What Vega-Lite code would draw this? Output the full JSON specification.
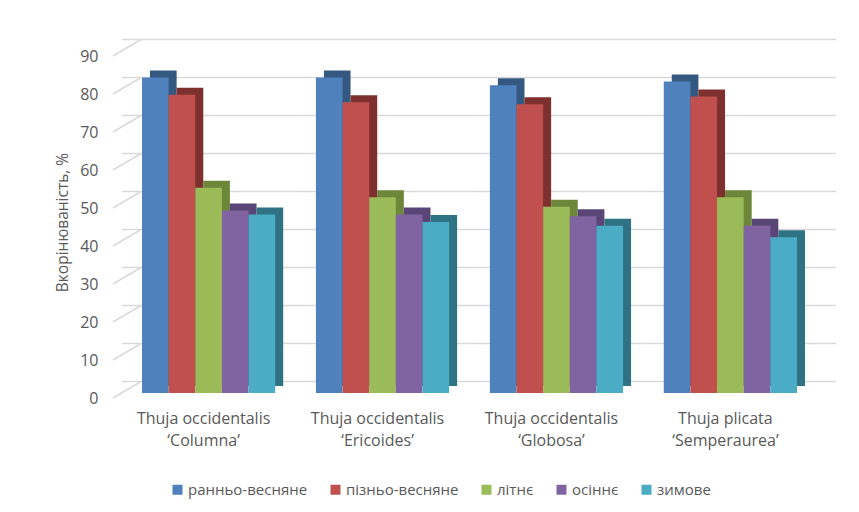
{
  "$schema": "https://vega.github.io/schema/vega-lite/v6.json",
  "width": 695,
  "height": 342,
  "autosize": "none",
  "padding": {"left": 122, "top": 51, "right": 42, "bottom": 119},
  "background": "white",
  "config": {
    "view": {"stroke": null},
    "font": "Open Sans",
    "axisY": {"grid": false, "ticks": false, "domain": false, "tickCount": 10,
              "labelOverlap": false,
              "labelFontSize": 16, "labelColor": "#595959", "labelPadding": 24, "labelOffset": 5,
              "titleFontSize": 15.5, "titleFontWeight": "normal",
              "titleColor": "#595959", "titlePadding": 9}
  },
  "datasets": {
    "bars": [
      {"variety": "Thuja occidentalis\n‘Columna’", "season": "ранньо-весняне", "value": 83},
      {"variety": "Thuja occidentalis\n‘Columna’", "season": "пізньо-весняне", "value": 78.5},
      {"variety": "Thuja occidentalis\n‘Columna’", "season": "літнє", "value": 54},
      {"variety": "Thuja occidentalis\n‘Columna’", "season": "осіннє", "value": 48},
      {"variety": "Thuja occidentalis\n‘Columna’", "season": "зимове", "value": 47},
      {"variety": "Thuja occidentalis\n‘Ericoides’", "season": "ранньо-весняне", "value": 83},
      {"variety": "Thuja occidentalis\n‘Ericoides’", "season": "пізньо-весняне", "value": 76.5},
      {"variety": "Thuja occidentalis\n‘Ericoides’", "season": "літнє", "value": 51.5},
      {"variety": "Thuja occidentalis\n‘Ericoides’", "season": "осіннє", "value": 47},
      {"variety": "Thuja occidentalis\n‘Ericoides’", "season": "зимове", "value": 45},
      {"variety": "Thuja occidentalis\n‘Globosa’", "season": "ранньо-весняне", "value": 81},
      {"variety": "Thuja occidentalis\n‘Globosa’", "season": "пізньо-весняне", "value": 76},
      {"variety": "Thuja occidentalis\n‘Globosa’", "season": "літнє", "value": 49},
      {"variety": "Thuja occidentalis\n‘Globosa’", "season": "осіннє", "value": 46.5},
      {"variety": "Thuja occidentalis\n‘Globosa’", "season": "зимове", "value": 44},
      {"variety": "Thuja plicata\n‘Semperaurea’", "season": "ранньо-весняне", "value": 82},
      {"variety": "Thuja plicata\n‘Semperaurea’", "season": "пізньо-весняне", "value": 78},
      {"variety": "Thuja plicata\n‘Semperaurea’", "season": "літнє", "value": 51.5},
      {"variety": "Thuja plicata\n‘Semperaurea’", "season": "осіннє", "value": 44},
      {"variety": "Thuja plicata\n‘Semperaurea’", "season": "зимове", "value": 41}
    ],
    "grid": [
      {"v": 0}, {"v": 10}, {"v": 20}, {"v": 30}, {"v": 40},
      {"v": 50}, {"v": 60}, {"v": 70}, {"v": 80}, {"v": 90}
    ]
  },
  "layer": [
    {
      "data": {"name": "grid"},
      "mark": {"type": "rule", "color": "#D9D9D9", "strokeWidth": 1.5, "xOffset": 19, "yOffset": -11.5},
      "encoding": {
        "y": {"field": "v", "type": "quantitative", "scale": {"domain": [0, 90], "nice": false},
              "title": "Вкорінюваність, %"}
      }
    },
    {
      "data": {"name": "grid"},
      "mark": {"type": "rule", "color": "#D9D9D9", "strokeWidth": 1.5, "yOffset": 5, "y2Offset": -11.5},
      "encoding": {
        "x": {"value": -9},
        "x2": {"value": 19},
        "y": {"field": "v", "type": "quantitative", "title": "Вкорінюваність, %"},
        "y2": {"field": "v"}
      }
    },
    {
      "data": {"name": "bars"},
      "mark": {"type": "bar", "yOffset": -7},
      "encoding": {
        "x": {"field": "variety", "type": "nominal", "sort": null,
              "scale": {"paddingInner": 0.234, "paddingOuter": 0.115},
              "axis": {"title": null, "ticks": false, "domain": false, "labelAngle": 0,
                       "labelFontSize": 16, "labelColor": "#595959", "labelPadding": 17,
                       "labelLineHeight": 22, "labelOffset": -5,
                       "labelExpr": "split(datum.label, '\\n')"}},
        "xOffset": {"field": "season", "type": "nominal",
                    "sort": ["ранньо-весняне", "пізньо-весняне", "літнє", "осіннє", "зимове"],
                    "scale": {"domain": ["ранньо-весняне", "пізньо-весняне", "літнє", "осіннє", "зимове"],
                              "range": [8, 141.2], "paddingInner": 0, "paddingOuter": 0}},
        "y": {"field": "value", "type": "quantitative", "title": "Вкорінюваність, %"},
        "color": {"field": "season", "type": "nominal",
                  "sort": ["ранньо-весняне", "пізньо-весняне", "літнє", "осіннє", "зимове"],
                  "scale": {"domain": ["ранньо-весняне", "пізньо-весняне", "літнє", "осіннє", "зимове"],
                            "range": ["#34587F", "#7E302E", "#6C8739", "#5A4676", "#2E7283"]},
                  "legend": null}
      }
    },
    {
      "data": {"name": "bars"},
      "mark": {"type": "bar"},
      "encoding": {
        "x": {"field": "variety", "type": "nominal", "sort": null},
        "xOffset": {"field": "season", "type": "nominal",
                    "sort": ["ранньо-весняне", "пізньо-весняне", "літнє", "осіннє", "зимове"],
                    "scale": {"domain": ["ранньо-весняне", "пізньо-весняне", "літнє", "осіннє", "зимове"],
                              "paddingInner": 0, "paddingOuter": 0}},
        "y": {"field": "value", "type": "quantitative", "title": "Вкорінюваність, %"},
        "color": {"field": "season", "type": "nominal",
                  "sort": ["ранньо-весняне", "пізньо-весняне", "літнє", "осіннє", "зимове"],
                  "scale": {"domain": ["ранньо-весняне", "пізньо-весняне", "літнє", "осіннє", "зимове"],
                            "range": ["#4F81BD", "#C0504D", "#9BBB59", "#8064A2", "#4BACC6"]},
                  "legend": {"title": null, "orient": "none", "direction": "horizontal",
                             "legendX": 48, "legendY": 431,
                             "symbolType": "square", "symbolSize": 100, "symbolStrokeWidth": 0,
                             "labelFontSize": 15, "labelColor": "#595959", "labelOffset": 3,
                             "columnPadding": 20}}
      }
    }
  ],
  "resolve": {"scale": {"color": "independent", "xOffset": "independent"}}
}
